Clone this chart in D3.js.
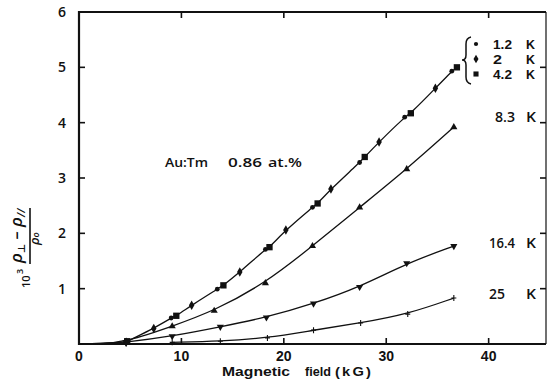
<!DOCTYPE html>
<html>
<head>
<meta charset="utf-8">
<script src="https://cdn.jsdelivr.net/npm/d3@7"></script>
<style>
  html, body { margin: 0; padding: 0; background: #fff; }
  svg { display: block; }
  text { font-family: "Open Sans", "DejaVu Sans", sans-serif; font-weight: 600; fill: #111; }
  text.tight { font-family: "Liberation Sans", "Open Sans", sans-serif; font-weight: bold; }
</style>
</head>
<body>
<svg id="chart" width="547" height="383"></svg>
<script>
// Anisotropic magnetoresistance of Au:Tm 0.86 at.% versus magnetic field
const field12 = [4.6, 9.0, 13.5, 18.2, 22.8, 27.4, 31.8, 36.4];
const rho12   = [0.04, 0.47, 0.99, 1.71, 2.47, 3.28, 4.10, 4.93];
const field2  = [4.6, 7.3, 11.0, 15.7, 20.2, 24.6, 29.3, 34.8];
const rho2    = [0.03, 0.28, 0.70, 1.30, 2.06, 2.80, 3.65, 4.62];
const field42 = [4.7, 9.5, 14.1, 18.6, 23.3, 27.9, 32.4, 36.9];
const rho42   = [0.05, 0.51, 1.06, 1.75, 2.54, 3.38, 4.17, 5.00];
const field83 = [4.6, 9.1, 13.2, 18.2, 22.8, 27.4, 32.0, 36.6];
const rho83   = [0.04, 0.32, 0.60, 1.10, 1.77, 2.47, 3.16, 3.92];
const field164 = [4.6, 9.1, 13.8, 18.3, 22.9, 27.4, 32.0, 36.6];
const rho164   = [0.03, 0.14, 0.31, 0.48, 0.73, 1.03, 1.46, 1.77];
const field25 = [9.1, 13.8, 18.4, 22.9, 27.5, 32.1, 36.6];
const rho25   = [0.03, 0.05, 0.11, 0.25, 0.38, 0.54, 0.83];

const xTicks = [0, 10, 20, 30, 40];
const yTicks = [0, 1, 2, 3, 4, 5, 6];
const legendTemps = ["1.2", "2", "4.2"];
const curveTemps = ["8.3", "16.4", "25"];

const svg = d3.select("#chart");
const x = d3.scaleLinear().domain([0, 45.6]).range([79, 546]);
const y = d3.scaleLinear().domain([0, 6]).range([344, 12]);

const zip = (fx, fy) => fx.map((f, i) => [f, fy[i]]);
const s12 = zip(field12, rho12), s2 = zip(field2, rho2), s42 = zip(field42, rho42);
const s83 = zip(field83, rho83), s164 = zip(field164, rho164), s25 = zip(field25, rho25);

// text helper with a fixed drawn width
function label(xp, yp, str, size, width) {
  const t = svg.append("text").attr("x", xp).attr("y", yp).attr("font-size", size).text(str);
  if (width) t.attr("textLength", width).attr("lengthAdjust", "spacingAndGlyphs");
  return t;
}

// frame
const frame = svg.append("g").attr("stroke", "#111").attr("fill", "none");
frame.append("path")
  .attr("d", `M${x(45.6)},${y(6)}H${x(0)}V${y(0)}H${x(45.6)}`)
  .attr("stroke-width", 2.2);
frame.append("line").attr("x1", x(45.6)).attr("x2", x(45.6))
  .attr("y1", y(6)).attr("y2", y(0)).attr("stroke-width", 1.2);

// ticks, all pointing inward
const tk = 6;
frame.selectAll(".xt").data(xTicks.slice(1)).join("line")
  .attr("x1", d => x(d)).attr("x2", d => x(d))
  .attr("y1", y(0)).attr("y2", y(0) - tk).attr("stroke-width", 1.6);
frame.selectAll(".xtt").data(xTicks.slice(1)).join("line")
  .attr("x1", d => x(d)).attr("x2", d => x(d))
  .attr("y1", y(6)).attr("y2", y(6) + tk).attr("stroke-width", 1.6);
frame.selectAll(".yt").data(yTicks.slice(1, 6)).join("line")
  .attr("x1", x(0)).attr("x2", x(0) + tk)
  .attr("y1", d => y(d)).attr("y2", d => y(d)).attr("stroke-width", 1.6);
frame.selectAll(".ytr").data(yTicks.slice(1, 6)).join("line")
  .attr("x1", x(45.6)).attr("x2", x(45.6) - tk)
  .attr("y1", d => y(d)).attr("y2", d => y(d)).attr("stroke-width", 1.6);

// tick labels
svg.selectAll(".xl").data(xTicks).join("text")
  .attr("class", "tight")
  .attr("x", d => x(d)).attr("y", 360.8)
  .attr("text-anchor", "middle").attr("font-size", 14)
  .text(d => d);
svg.selectAll(".yl").data(yTicks.slice(1)).join("text")
  .attr("x", 62).attr("y", d => y(d) + 5)
  .attr("text-anchor", "middle").attr("font-size", 14).attr("font-weight", "bold")
  .text(d => d);

// axis title
label(222, 376, "Magnetic", 13.5, 68).attr("class", "tight");
label(305, 376, "field", 13.5, 26).attr("class", "tight");
label(335, 376, "(kG)", 13.5, 38).attr("class", "tight").attr("letter-spacing", 2);

// y title, rotated fraction
const yt = svg.append("g").attr("transform", "translate(30,288) rotate(-90)");
yt.append("text").attr("x", 0).attr("y", 0).attr("font-size", 11).attr("font-weight", "bold").text("10");
yt.append("text").attr("x", 14).attr("y", -7).attr("font-size", 9).attr("font-weight", "bold").text("3");
const num = yt.append("text").attr("x", 25).attr("y", -8).attr("font-size", 17).attr("font-style", "italic");
num.append("tspan").text("ρ");
num.append("tspan").attr("font-size", 10).attr("dy", 3).text("⊥");
num.append("tspan").attr("dy", -3).text(" – ρ");
num.append("tspan").attr("font-size", 11).attr("dy", 3).text("//");
yt.append("line").attr("x1", 24).attr("x2", 80).attr("y1", 0).attr("y2", 0)
  .attr("stroke", "#111").attr("stroke-width", 1.6);
const den = yt.append("text").attr("x", 43).attr("y", 9).attr("font-size", 13).attr("font-style", "italic");
den.append("tspan").text("ρ");
den.append("tspan").attr("font-size", 9).text("o");

// annotation
label(165, 167, "Au:Tm", 12.5, 43);
label(228, 167, "0.86", 12.5, 34);
label(268, 167, "at.%", 12.5, 34);

// fitted curves
const line = d3.line().x(d => x(d[0])).y(d => y(d[1])).curve(d3.curveBasis);
const lowT = [[0, 0], [2, 0.003]].concat(s12, s2, s42).sort((a, b) => a[0] - b[0]);
const curves = [
  lowT,
  [[0, 0], [2, 0.003]].concat(s83),
  [[0, 0], [2, 0.003]].concat(s164),
  s25
];
svg.append("g").attr("fill", "none").attr("stroke", "#111").attr("stroke-width", 1.3)
  .selectAll("path").data(curves).join("path").attr("d", line);

// markers
const mk = svg.append("g").attr("fill", "#111");
const sym = (type, size) => d3.symbol().type(type).size(size)();
mk.selectAll(".c").data(s12).join("path")
  .attr("transform", d => `translate(${x(d[0])},${y(d[1])})`).attr("d", sym(d3.symbolCircle, 18));
mk.selectAll(".d").data(s2).join("path")
  .attr("transform", d => `translate(${x(d[0])},${y(d[1])})`).attr("d", sym(d3.symbolDiamond, 26));
mk.selectAll(".s").data(s42).join("path")
  .attr("transform", d => `translate(${x(d[0])},${y(d[1])})`).attr("d", sym(d3.symbolSquare, 40));
mk.selectAll(".t").data(s83).join("path")
  .attr("transform", d => `translate(${x(d[0])},${y(d[1])})`).attr("d", sym(d3.symbolTriangle, 22));
mk.selectAll(".v").data(s164).join("path")
  .attr("transform", d => `translate(${x(d[0])},${y(d[1])}) rotate(180)`).attr("d", sym(d3.symbolTriangle, 22));
svg.append("g").attr("stroke", "#111").attr("stroke-width", 1.1)
  .selectAll("path").data(s25).join("path")
  .attr("d", d => `M${x(d[0]) - 2.5},${y(d[1])}h5M${x(d[0])},${y(d[1]) - 3}v6`);

// legend for the low-temperature curve
svg.append("path")
  .attr("d", "M471,37 Q466,38 466,44 V55 Q466,60 462,60 Q466,60 466,65 V77 Q466,83 471,84")
  .attr("fill", "none").attr("stroke", "#111").attr("stroke-width", 1.5);
const legY = [44, 59, 74];
const legW = [19, 9, 19];
const legSym = [sym(d3.symbolCircle, 14), sym(d3.symbolDiamond, 22), sym(d3.symbolSquare, 26)];
mk.selectAll(".lg").data(legY).join("path")
  .attr("transform", d => `translate(476,${d})`).attr("d", (d, i) => legSym[i]);
legendTemps.forEach((t, i) => {
  label(493, legY[i] + 5, t, 13, legW[i]).attr("class", "tight");
  label(526, legY[i] + 5, "K", 13, 9).attr("class", "tight");
});

// labels for the higher-temperature curves
const curveLabelY = [122, 248, 299];
const curveLabelX = [495, 489, 489];
const curveLabelW = [20, 26, 16];
curveTemps.forEach((t, i) => {
  label(curveLabelX[i], curveLabelY[i], t, 13.5, curveLabelW[i]);
  label(526, curveLabelY[i], "K", 13.5, 10);
});
</script>
</body>
</html>
